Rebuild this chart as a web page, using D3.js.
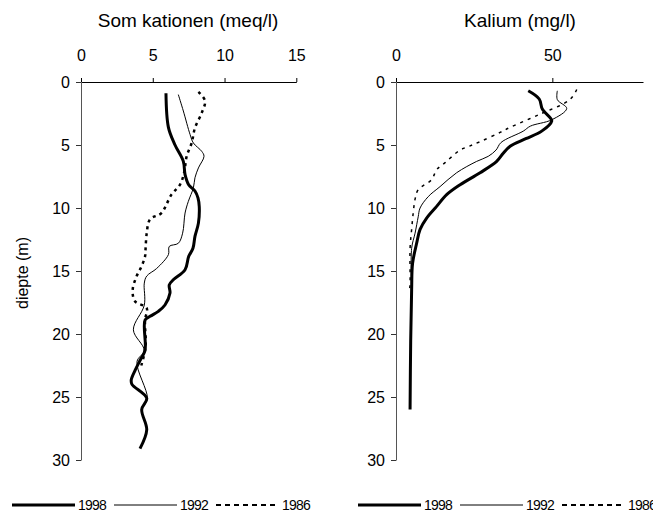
<!DOCTYPE html>
<html><head><meta charset="utf-8">
<script src="https://cdn.jsdelivr.net/npm/d3@7"></script>
<style>
body{margin:0;background:#fff;}
svg{display:block;font-family:"Liberation Sans",Arial,sans-serif;}
</style></head>
<body><svg id="c" width="653" height="516"></svg>
<script>
// ---- data: [depth (m), value] ----
const years = ["1998", "1992", "1986"];
const depthTicks = [0, 5, 10, 15, 20, 25, 30];
const kationTicks = [0, 5, 10, 15];
const kaliumTicks = [0, 50];

const kation1998 = [[0.9,5.92],[3.6,6.09],[5.0,6.55],[6.3,7.13],[7.35,7.25],[8.15,7.5],[8.65,7.94],[9.2,8.15],[9.9,8.24],[11.2,8.18],[12.25,7.94],[13.2,7.8],[13.85,7.5],[14.9,7.25],[15.7,6.43],[16.1,6.15],[16.75,6.2],[17.7,5.85],[18.2,5.39],[18.6,4.81],[18.9,4.46],[21.3,4.46],[22.1,4.11],[22.9,3.76],[23.65,3.5],[24.0,3.55],[25.1,4.58],[26.0,4.23],[27.6,4.58],[29.1,4.11]];
const kation1992 = [[1.0,6.78],[2.3,7.13],[4.17,7.6],[4.84,7.83],[5.5,8.41],[5.9,8.57],[6.82,8.18],[7.6,7.94],[8.4,7.83],[9.47,7.48],[10.4,7.25],[12.0,7.08],[12.8,6.78],[13.05,6.15],[13.7,6.09],[14.8,5.27],[15.4,4.58],[15.96,4.41],[17.7,4.41],[19.67,3.65],[21.3,4.4],[22.2,3.9],[25.1,4.62],[25.8,4.3]];
const kation1986 = [[0.78,8.18],[1.5,8.64],[2.45,8.41],[3.64,7.94],[4.84,7.71],[5.9,7.36],[7.1,7.2],[8.15,6.9],[8.94,6.3],[10.4,5.6],[10.9,4.81],[12.0,4.58],[13.2,4.5],[13.85,4.46],[14.6,4.23],[15.4,3.88],[16.5,3.6],[17.4,3.76],[17.95,4.58],[18.9,4.46],[21.0,4.5],[22.5,4.2]];

const kalium1998 = [[0.7,42.3],[1.35,45.8],[2.15,46.8],[2.9,49.5],[3.1,49.8],[3.9,46.6],[4.5,41.5],[5.1,36.5],[5.66,34.3],[6.3,32.2],[7.2,26.9],[8.15,20.5],[8.94,16.2],[9.87,13.0],[10.8,9.8],[11.7,7.7],[12.8,6.6],[14.4,5.3],[16.5,5.0],[20.5,4.7],[26.0,4.5]];
const kalium1992 = [[0.7,51.6],[1.4,51.6],[2.1,54.6],[3.0,49.8],[3.5,43.0],[3.9,40.7],[4.8,33.6],[5.4,32.0],[5.9,29.5],[6.3,25.8],[7.2,19.4],[8.3,14.1],[9.1,10.3],[10.0,7.7],[10.7,7.1],[12.0,6.1],[13.2,5.0],[16.5,5.0]];
const kalium1986 = [[0.6,57.8],[1.4,55.6],[2.56,46.0],[3.6,36.5],[4.0,33.3],[4.7,27.2],[5.07,23.7],[5.4,20.5],[6.4,15.7],[6.96,13.0],[7.75,11.4],[8.55,7.1],[9.3,6.1],[10.4,5.5],[11.7,5.0],[13.2,4.5],[16.0,4.5],[16.6,4.3]];

const svg = d3.select("#c");
const FONT = '"Liberation Sans",Arial,sans-serif';

const y = d3.scaleLinear().domain([0, 30]).range([82, 460]);

const styles = {
  "1998": {w: 3, dash: null, legendDash: null},
  "1992": {w: 1, dash: null, legendDash: null},
  "1986": {w: 2.5, dash: "3,4", legendDash: "5,4"}
};

function panel(opt) {
  const x = d3.scaleLinear().domain(opt.domain).range(opt.range);
  const g = svg.append("g");
  g.append("text").attr("x", opt.titleX).attr("y", 27).attr("text-anchor", "middle")
    .attr("font-size", 19).text(opt.title);
  const ax = g.append("g").attr("transform", `translate(0,${y(0)})`)
    .call(d3.axisTop(x).tickValues(opt.xTicks).tickSize(4).tickSizeOuter(0).tickPadding(17));
  ax.select(".domain").attr("stroke", "#000");
  ax.selectAll(".tick line").attr("stroke", "#000");
  ax.selectAll("text").attr("font-size", 16).attr("font-family", FONT).attr("fill", "#000");
  const ay = g.append("g").attr("transform", `translate(${opt.range[0]},0)`)
    .call(d3.axisLeft(y).tickValues(depthTicks).tickSize(5).tickSizeOuter(0).tickPadding(6));
  ay.select(".domain").attr("stroke", "#555");
  ay.selectAll(".tick line").attr("stroke", "#333");
  ay.selectAll("text").attr("font-size", 16).attr("font-family", FONT).attr("fill", "#000");

  const line = d3.line().x(p => x(p[1])).y(p => y(p[0])).curve(d3.curveCatmullRom.alpha(0.5));
  opt.series.forEach((s, i) => {
    const st = styles[years[i]];
    const w = (years[i] === "1986" && opt.thinDots) ? 1.5 : st.w;
    g.append("path").attr("d", line(s)).attr("fill", "none").attr("stroke", "#000")
      .attr("stroke-width", w).attr("stroke-dasharray", st.dash ? (opt.thinDots ? "3,5" : st.dash) : null)
      .attr("stroke-linejoin", "round");
  });
  const ly = 505;
  let lx = opt.legendX;
  years.forEach((yr, i) => {
    const st = styles[yr];
    g.append("line").attr("x1", lx).attr("x2", lx + 63).attr("y1", ly).attr("y2", ly)
      .attr("stroke", "#000").attr("stroke-width", yr === "1998" ? 3 : (yr === "1992" ? 1 : 2))
      .attr("stroke-dasharray", st.legendDash);
    g.append("text").attr("x", lx + 66).attr("y", ly + 5).attr("font-size", 14)
      .attr("letter-spacing", -0.8).text(yr);
    lx += 102;
  });
}

panel({title: "Som kationen (meq/l)", titleX: 188, domain: [0, 15], range: [81, 296.3],
  xTicks: kationTicks, series: [kation1998, kation1992, kation1986], legendX: 12, thinDots: false});
panel({title: "Kalium (mg/l)", titleX: 520, domain: [0, 79], range: [396, 643],
  xTicks: kaliumTicks, series: [kalium1998, kalium1992, kalium1986], legendX: 358, thinDots: true});

svg.append("text").attr("transform", "translate(28,273) rotate(-90)").attr("text-anchor", "middle")
  .attr("font-size", 16).text("diepte (m)");
</script></body></html>
